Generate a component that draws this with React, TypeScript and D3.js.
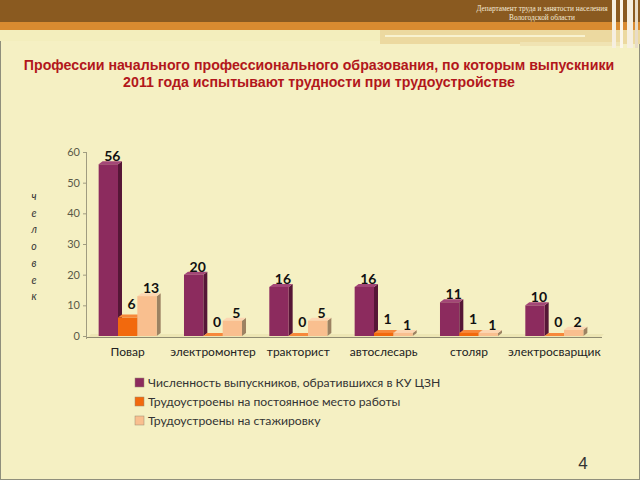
import React from "react";
import * as d3 from "d3";

const categories = ["Повар", "электромонтер", "тракторист", "автослесарь", "столяр", "электросварщик"];
const seriesNames = [
  "Численность выпускников, обратившихся в КУ ЦЗН",
  "Трудоустроены на постоянное место работы",
  "Трудоустроены на стажировку",
];
const applied = [56, 20, 16, 16, 11, 10];
const permanent = [6, 0, 0, 1, 1, 0];
const internship = [13, 5, 5, 1, 1, 2];
const yTicks = [0, 10, 20, 30, 40, 50, 60];
const axisLetters = ["ч", "е", "л", "о", "в", "е", "к"];

const seriesValues = [applied, permanent, internship];
const front = ["#8c2b5e", "#f2690d", "#f9bf8f"];
const side = ["#561636", "#a94400", "#9c8262"];
const top = ["#a34677", "#f7883a", "#fcd6b2"];
const labelDy = [-3, -9, -3];

export default function App() {
  const W = 640, H = 480;
  const x = d3.scaleBand<string>().domain(categories).range([85, 597]).paddingInner(0.32).paddingOuter(0.16);
  const xi = d3.scaleBand<number>().domain([0, 1, 2]).range([0, x.bandwidth()]);
  const y = d3.scaleLinear().domain([0, 60]).range([336, 152]);
  const d = 4, dy = 3;
  const y0 = y(0);

  return (
    <svg width={W} height={H} style={{ display: "block", position: "absolute", left: 0, top: 0 }}>
      <rect x={0} y={0} width={W} height={H} fill="#f5f0c3" />
      <rect x={0.5} y={0.5} width={W - 1} height={H - 1} fill="none" stroke="#8f8f7c" />
      {/* header bands */}
      <rect x={0} y={0} width={W} height={22} fill="#8a5a20" />
      <rect x={0} y={22} width={W} height={8} fill="#d98b30" />
      <rect x={0} y={30} width={380} height={11} fill="#f3eebd" />
      <rect x={380} y={30} width={260} height={14} fill="#ecd9a0" />
      <rect x={385} y={35} width={200} height={2} fill="#f8f2d0" />
      <rect x={520} y={42} width={100} height={4} fill="#f0e3b2" />
      <rect x={612} y={0} width={4} height={48} fill="#f6efe0" />
      <rect x={620} y={0} width={3} height={48} fill="#fbf6ea" />
      <rect x={627} y={0} width={6} height={48} fill="#f6efe0" />
      <rect x={635} y={0} width={3} height={48} fill="#e8dcc8" />
      <text x={542} y={11} textAnchor="middle" fontFamily="Liberation Serif" fontSize={7.3} fill="#f4ead8">Департамент труда и занятости населения</text>
      <text x={542} y={20} textAnchor="middle" fontFamily="Liberation Serif" fontSize={7.3} fill="#f4ead8">Вологодской области</text>

      {/* title */}
      <text x={319} y={70} textAnchor="middle" fontFamily="Liberation Sans" fontWeight="bold" fontSize={14.2} fill="#b2171b">
        Профессии начального профессионального образования, по которым выпускники
      </text>
      <text x={319} y={87} textAnchor="middle" fontFamily="Liberation Sans" fontWeight="bold" fontSize={14.2} fill="#b2171b">
        2011 года испытывают трудности при трудоустройстве
      </text>

      {/* y axis label */}
      {axisLetters.map((ch, i) => (
        <text key={i} x={34} y={200 + i * 16.7} textAnchor="middle" fontFamily="Lato" fontStyle="italic" fontSize={10.5} fill="#333">{ch}</text>
      ))}

      {/* axes */}
      <line x1={86.5} x2={86.5} y1={y(60)} y2={y0 + 3} stroke="#a09c80" />
      {yTicks.map((t) => (
        <g key={t}>
          <line x1={83} x2={87} y1={y(t) + 0.5} y2={y(t) + 0.5} stroke="#a09c80" />
          <text x={80} y={y(t) + 4} textAnchor="end" fontFamily="Lato" fontSize={11} fill="#5a5a48">{t}</text>
        </g>
      ))}
      <polygon points={`87,${y0 + 2} ${87 + d},${y0 - dy + 1} ${600 + d},${y0 - dy + 1} 600,${y0 + 2}`} fill="#ede6b4" />
      <line x1={87} x2={602} y1={y0 + 1.5} y2={y0 + 1.5} stroke="#8f8b70" />

      {/* bars */}
      {categories.map((c, ci) => (
        <g key={c}>
          {seriesValues.map((vals, si) => {
            const bx = (x(c) as number) + (xi(si) as number);
            const w = xi.bandwidth();
            const by = y(vals[ci]);
            return (
              <g key={si}>
                <polygon points={`${bx + w},${by} ${bx + w + d},${by - dy} ${bx + w + d},${y0 - dy} ${bx + w},${y0}`} fill={side[si]} />
                <polygon points={`${bx},${by} ${bx + d},${by - dy} ${bx + w + d},${by - dy} ${bx + w},${by}`} fill={top[si]} />
                <rect x={bx} y={by} width={w} height={y0 - by} fill={front[si]} />
              </g>
            );
          })}
          {seriesValues.map((vals, si) => {
            const bx = (x(c) as number) + (xi(si) as number) + xi.bandwidth() / 2 + 4;
            return (
              <text key={"l" + si} x={bx} y={y(vals[ci]) + labelDy[si]} textAnchor="middle" fontFamily="Lato" fontWeight="bold" fontSize={14} fill="#111">
                {vals[ci]}
              </text>
            );
          })}
          <text x={(x(c) as number) + x.bandwidth() / 2} y={356} textAnchor="middle" fontFamily="Lato" fontSize={12} fill="#222">{c}</text>
        </g>
      ))}

      {/* legend */}
      {seriesNames.map((s, i) => (
        <g key={s}>
          <rect x={135} y={378 + i * 19} width={9} height={9} fill={front[i]} stroke="#9a8a70" strokeWidth={0.5} />
          <text x={148} y={387 + i * 19} fontFamily="Lato" fontSize={12.2} fill="#333">{s}</text>
        </g>
      ))}

      <text x={583} y={469} textAnchor="middle" fontFamily="Liberation Sans" fontSize={17} fill="#333">4</text>
    </svg>
  );
}
